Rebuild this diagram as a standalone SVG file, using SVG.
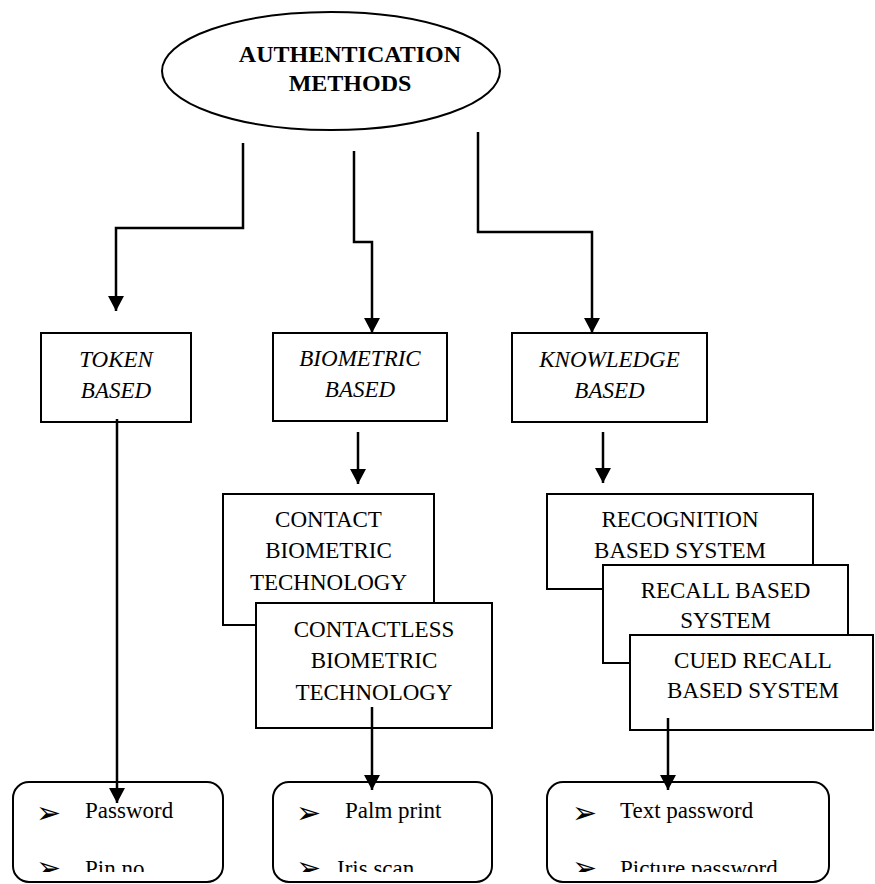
<svg xmlns="http://www.w3.org/2000/svg" width="875" height="884" viewBox="0 0 875 884">
<style>
.box{fill:#fff;stroke:#000;stroke-width:2}
.t{font-family:"Liberation Serif","Times New Roman",serif;font-size:23px;fill:#000;text-anchor:middle}
.i{font-style:italic}
.b{font-weight:bold;font-size:24px}
.l{font-family:"Liberation Serif","Times New Roman",serif;font-size:23px;fill:#000}
.bul{font-family:"DejaVu Sans",sans-serif;font-size:30px;fill:#000}
.c{fill:none;stroke:#000;stroke-width:2.5}
</style>
<defs>
<marker id="ah" markerUnits="userSpaceOnUse" markerWidth="16" markerHeight="16" refX="15" refY="8" orient="auto">
<path d="M0,0 L15,8 L0,16 Z" fill="#000"/>
</marker>
<clipPath id="clip"><rect x="0" y="0" width="875" height="872"/></clipPath>
</defs>
<g id="root">
<ellipse cx="331" cy="71" rx="169" ry="59" fill="#fff" stroke="#000" stroke-width="2"/>
<text class="t b" x="350" y="62">AUTHENTICATION</text>
<text class="t b" x="350" y="91">METHODS</text>
</g>
<g id="token">
<rect class="box" x="41" y="333" width="150" height="89"/>
<text class="t i" x="116" y="367">TOKEN</text>
<text class="t i" x="116" y="398">BASED</text>
</g>
<g id="biometric">
<rect class="box" x="273" y="333" width="174" height="88"/>
<text class="t i" x="360" y="366">BIOMETRIC</text>
<text class="t i" x="360" y="397">BASED</text>
</g>
<g id="knowledge">
<rect class="box" x="512" y="333" width="195" height="89"/>
<text class="t i" x="609.5" y="367">KNOWLEDGE</text>
<text class="t i" x="609.5" y="398">BASED</text>
</g>
<g id="contact">
<rect class="box" x="223" y="494" width="211" height="131"/>
<text class="t" x="328.5" y="527">CONTACT</text>
<text class="t" x="328.5" y="558">BIOMETRIC</text>
<text class="t" x="328.5" y="590">TECHNOLOGY</text>
</g>
<g id="contactless">
<rect class="box" x="256" y="603" width="236" height="125"/>
<text class="t" x="374" y="637">CONTACTLESS</text>
<text class="t" x="374" y="668">BIOMETRIC</text>
<text class="t" x="374" y="700">TECHNOLOGY</text>
</g>
<g id="recognition">
<rect class="box" x="547" y="494" width="266" height="95"/>
<text class="t" x="680" y="527">RECOGNITION</text>
<text class="t" x="680" y="558">BASED SYSTEM</text>
</g>
<g id="recall">
<rect class="box" x="603" y="565" width="245" height="98"/>
<text class="t" x="725.5" y="598">RECALL BASED</text>
<text class="t" x="725.5" y="628">SYSTEM</text>
</g>
<g id="cued">
<rect class="box" x="630" y="635" width="243" height="95"/>
<text class="t" x="753" y="668">CUED RECALL</text>
<text class="t" x="753" y="698">BASED SYSTEM</text>
</g>
<g id="tokenlist">
<rect class="box" x="13" y="782" width="210" height="100" rx="16"/>
<g clip-path="url(#clip)">
<text class="bul" x="36" y="823">➢</text>
<text class="l" x="85" y="818">Password</text>
<text class="bul" x="36" y="878">➢</text>
<text class="l" x="85" y="876">Pin no</text>
</g>
</g>
<g id="biolist">
<rect class="box" x="273" y="782" width="219" height="100" rx="16"/>
<g clip-path="url(#clip)">
<text class="bul" x="296" y="823">➢</text>
<text class="l" x="345" y="818">Palm print</text>
<text class="bul" x="296" y="878">➢</text>
<text class="l" x="337" y="876">Iris scan</text>
</g>
</g>
<g id="knowlist">
<rect class="box" x="547" y="782" width="282" height="100" rx="16"/>
<g clip-path="url(#clip)">
<text class="bul" x="572" y="823">➢</text>
<text class="l" x="620" y="818">Text password</text>
<text class="bul" x="572" y="878">➢</text>
<text class="l" x="620" y="876">Picture password</text>
</g>
</g>
<g id="connectors">
<path class="c" d="M243,143 V228 H116 V311" marker-end="url(#ah)"/>
<path class="c" d="M354,151 V242 H372 V333" marker-end="url(#ah)"/>
<path class="c" d="M478,132 V232 H592 V333" marker-end="url(#ah)"/>
<path class="c" d="M358,432 V484" marker-end="url(#ah)"/>
<path class="c" d="M603,432 V483" marker-end="url(#ah)"/>
<path class="c" d="M117,419 V803" marker-end="url(#ah)"/>
<path class="c" d="M372,707 V790" marker-end="url(#ah)"/>
<path class="c" d="M668,718 V790" marker-end="url(#ah)"/>
</g>
</svg>
